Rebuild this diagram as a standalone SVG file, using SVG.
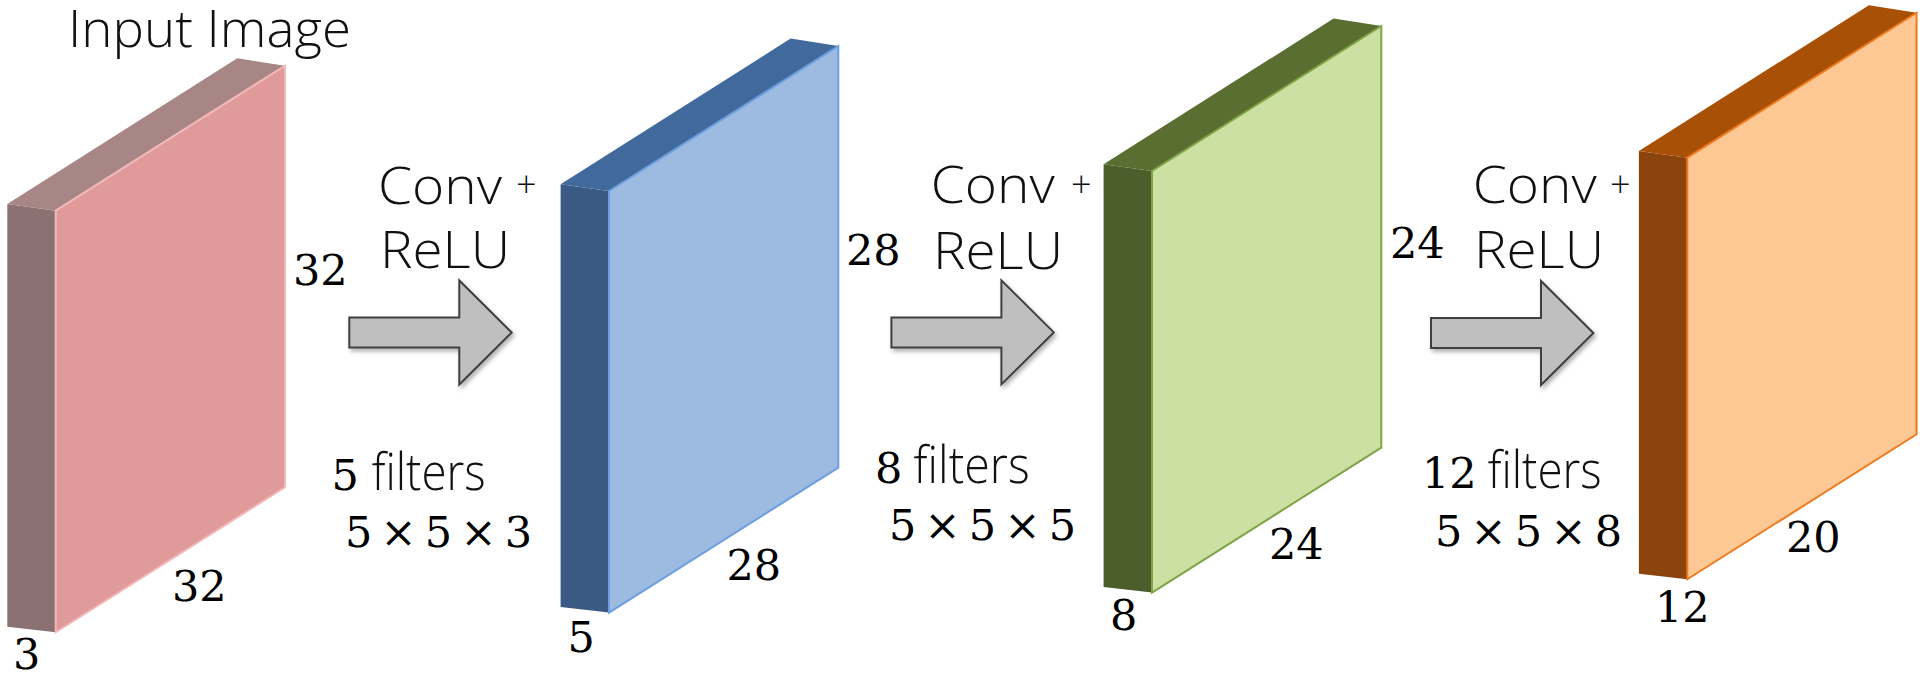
<svg xmlns="http://www.w3.org/2000/svg" width="1920" height="674" viewBox="0 0 1920 674">
  <style>
    .lbl { font-family: "Open Sans", Lato, "Liberation Sans", sans-serif; font-weight: 300; fill: #111; }
    .big { font-size: 51px; }
    .plus { font-size: 36px; }
    .num { font-family: "DejaVu Serif", "Liberation Serif", serif; font-size: 43px; fill: #000; }
    .arrow { fill: #bfbfbf; stroke: #404040; stroke-width: 2; stroke-linejoin: miter; filter: url(#sh); }
    .b1s { fill: #8b7171; } .b1t { fill: #a88686; } .b1f { fill: #e09a99; stroke: #f2b9b9; stroke-width: 2; }
    .b2s { fill: #3a5a84; } .b2t { fill: #41699c; } .b2f { fill: #9dbae0; stroke: #6c9fe0; stroke-width: 2; }
    .b3s { fill: #4b5e2b; } .b3t { fill: #5b6e31; } .b3f { fill: #cce0a4; stroke: #7fa546; stroke-width: 2; }
    .b4s { fill: #8b440d; } .b4t { fill: #a85106; } .b4f { fill: #fec894; stroke: #f07b1e; stroke-width: 2; }
  </style>
  <defs>
    <filter id="sh" x="-10%" y="-10%" width="130%" height="130%">
      <feDropShadow dx="2" dy="3" stdDeviation="2" flood-color="#000" flood-opacity="0.3"/>
    </filter>
    <polygon id="side" points="-48.4,-6.7 0,0 0,421.6 -48.4,416"/>
    <polygon id="top" points="-48.4,-6.7 181.6,-152.4 229.3,-145 0,0"/>
    <polygon id="front" points="0,0 229.3,-145 229.3,276.6 0,421.6"/>
    <polygon id="arr" points="0,-15 110,-15 110,-52 162.4,0 110,52 110,15 0,15"/>
  </defs>

  <rect width="1920" height="674" fill="#ffffff"/>

  <!-- Node 1: input image -->
  <g id="input-image">
    <text class="lbl big" x="68" y="46.7" textLength="283" lengthAdjust="spacingAndGlyphs">Input Image</text>
    <g transform="translate(55.7,210.7)">
      <use href="#side" class="b1s"/>
      <use href="#top" class="b1t"/>
      <use href="#front" class="b1f"/>
    </g>
    <text class="num" x="293" y="285">32</text>
    <text class="num" x="172" y="600.7">32</text>
    <text class="num" x="13" y="669">3</text>
  </g>

  <!-- Node 2 -->
  <g id="feature-map-1">
    <g transform="translate(609,191)">
      <use href="#side" class="b2s"/>
      <use href="#top" class="b2t"/>
      <use href="#front" class="b2f"/>
    </g>
    <text class="num" x="846" y="265">28</text>
    <text class="num" x="726.5" y="580">28</text>
    <text class="num" x="567.5" y="651.7">5</text>
  </g>

  <!-- Node 3 -->
  <g id="feature-map-2">
    <g transform="translate(1152,171)">
      <use href="#side" class="b3s"/>
      <use href="#top" class="b3t"/>
      <use href="#front" class="b3f"/>
    </g>
    <text class="num" x="1390" y="258">24</text>
    <text class="num" x="1269" y="559">24</text>
    <text class="num" x="1110" y="629.8">8</text>
  </g>

  <!-- Node 4 -->
  <g id="feature-map-3">
    <g transform="translate(1687.3,157.7)">
      <use href="#side" class="b4s"/>
      <use href="#top" class="b4t"/>
      <use href="#front" class="b4f"/>
    </g>
    <text class="num" x="1786" y="551.7">20</text>
    <text class="num" x="1655" y="621.7">12</text>
  </g>

  <!-- Connectors -->
  <g id="connectors">
    <g id="conv1">
      <use href="#arr" class="arrow" transform="translate(349.3,332.5)"/>
      <text class="lbl big" x="378" y="203.5" textLength="124" lengthAdjust="spacingAndGlyphs">Conv</text>
      <text class="lbl plus" x="516" y="197">+</text>
      <text class="lbl big" x="380" y="268.3" textLength="130" lengthAdjust="spacingAndGlyphs">ReLU</text>
      <text class="num" x="331.5" y="490">5</text>
      <text class="lbl big" x="371.7" y="489.5" textLength="114" lengthAdjust="spacingAndGlyphs">filters</text>
      <text class="num" x="345" y="546.5" textLength="187" lengthAdjust="spacing">5 × 5 × 3</text>
    </g>
    <g id="conv2">
      <use href="#arr" class="arrow" transform="translate(891.4,332.4)"/>
      <text class="lbl big" x="930.7" y="203.4" textLength="124" lengthAdjust="spacingAndGlyphs">Conv</text>
      <text class="lbl plus" x="1071" y="197">+</text>
      <text class="lbl big" x="933" y="268.7" textLength="130" lengthAdjust="spacingAndGlyphs">ReLU</text>
      <text class="num" x="875" y="482.7">8</text>
      <text class="lbl big" x="913.6" y="482.5" textLength="116" lengthAdjust="spacingAndGlyphs">filters</text>
      <text class="num" x="889" y="540" textLength="187" lengthAdjust="spacing">5 × 5 × 5</text>
    </g>
    <g id="conv3">
      <use href="#arr" class="arrow" transform="translate(1431,333)"/>
      <text class="lbl big" x="1472.7" y="203.3" textLength="124" lengthAdjust="spacingAndGlyphs">Conv</text>
      <text class="lbl plus" x="1610" y="197">+</text>
      <text class="lbl big" x="1474" y="267.5" textLength="130" lengthAdjust="spacingAndGlyphs">ReLU</text>
      <text class="num" x="1422" y="488">12</text>
      <text class="lbl big" x="1487.7" y="488" textLength="114" lengthAdjust="spacingAndGlyphs">filters</text>
      <text class="num" x="1435" y="546" textLength="187" lengthAdjust="spacing">5 × 5 × 8</text>
    </g>
  </g>
</svg>
